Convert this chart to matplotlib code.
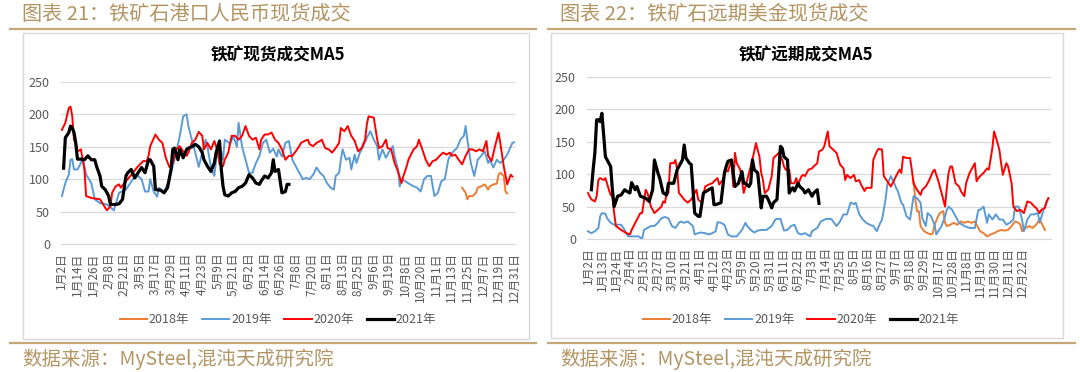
import matplotlib.pyplot as plt
from matplotlib.lines import Line2D
from matplotlib.patches import Rectangle

plt.rcParams['font.family'] = ['Noto Sans CJK SC', 'DejaVu Sans']

# x labels (trading-day axis, one label every few days)
left_ticks = ['1月2日', '1月14日', '1月26日', '2月8日', '2月21日', '3月5日', '3月17日', '3月29日',
              '4月11日', '4月23日', '5月9日', '5月21日', '6月2日', '6月14日', '6月26日', '7月8日',
              '7月20日', '8月1日', '8月13日', '8月25日', '9月6日', '9月19日', '10月8日', '10月20日',
              '11月1日', '11月13日', '11月25日', '12月7日', '12月19日', '12月31日']
right_ticks = ['1月2日', '1月13日', '1月24日', '2月4日', '2月15日', '2月27日', '3月10日', '3月21日',
               '4月1日', '4月12日', '4月23日', '5月9日', '5月20日', '5月31日', '6月11日', '6月22日',
               '7月3日', '7月14日', '7月25日', '8月5日', '8月16日', '8月27日', '9月7日', '9月18日',
               '9月29日', '10月17日', '10月28日', '11月8日', '11月19日', '11月30日', '12月11日', '12月22日']

years = ['2018年', '2019年', '2020年', '2021年']
colors = ['#ED7D31', '#5B9BD5', '#FF0000', '#000000']
widths = [1.4, 1.4, 1.4, 2.3]

# left chart: (day index, value)
L18 = [(231, 87), (233, 79), (234, 69), (235, 74), (237, 74), (239, 79), (240, 87), (242, 89),
       (244, 92), (246, 84), (247, 89), (249, 92), (251, 93), (252, 107), (253, 110), (255, 105),
       (256, 81), (257, 78)]
L19 = [(0, 74), (2, 94), (4, 107), (5, 130), (6, 131), (7, 115), (9, 115), (11, 125), (12, 133),
       (14, 107), (17, 94), (19, 69), (22, 63), (26, 61), (30, 52), (33, 79), (37, 84), (41, 100),
       (44, 105), (46, 100), (48, 81), (50, 81), (51, 100), (53, 81), (55, 73), (56, 87), (59, 80),
       (62, 100), (65, 130), (68, 166), (70, 197), (72, 200), (73, 182), (75, 161), (77, 141),
       (79, 119), (81, 141), (83, 161), (84, 150), (86, 119), (88, 105), (89, 130), (91, 154),
       (93, 130), (94, 161), (97, 155), (99, 166), (101, 150), (102, 187), (104, 150), (106, 130),
       (108, 110), (110, 110), (112, 125), (114, 136), (116, 156), (118, 161), (120, 141),
       (122, 147), (124, 135), (125, 146), (127, 135), (129, 156), (131, 159), (133, 130),
       (135, 120), (137, 110), (139, 100), (141, 102), (143, 100), (145, 107), (147, 118),
       (149, 110), (151, 105), (153, 94), (155, 87), (157, 84), (158, 105), (160, 110), (161, 130),
       (162, 146), (164, 130), (166, 133), (167, 115), (169, 138), (170, 125), (172, 141),
       (174, 151), (176, 164), (178, 174), (180, 161), (182, 151), (183, 130), (185, 146),
       (187, 133), (189, 143), (191, 151), (192, 136), (194, 115), (195, 89), (196, 100), (198, 97),
       (201, 92), (203, 89), (205, 87), (207, 81), (209, 100), (211, 105), (213, 105), (215, 74),
       (217, 79), (219, 97), (221, 100), (223, 130), (224, 136), (226, 143), (228, 148), (230, 161),
       (232, 167), (233, 182), (234, 161), (236, 125), (238, 105), (240, 130), (242, 136),
       (244, 143), (246, 125), (247, 130), (249, 118), (251, 130), (253, 125), (255, 130),
       (257, 138), (260, 156), (261, 157)]
L20 = [(0, 176), (2, 187), (4, 210), (5, 212), (6, 197), (7, 161), (8, 156), (9, 143), (11, 146),
       (12, 130), (13, 115), (14, 74), (17, 71), (22, 69), (25, 56), (26, 52), (28, 58), (29, 79),
       (31, 89), (33, 92), (34, 87), (36, 94), (38, 100), (41, 110), (44, 120), (47, 128), (49, 128),
       (50, 136), (51, 151), (54, 169), (56, 161), (58, 156), (60, 133), (62, 119), (64, 125),
       (66, 146), (68, 151), (70, 143), (72, 136), (73, 141), (75, 156), (77, 161), (79, 173),
       (81, 167), (82, 146), (84, 156), (86, 146), (88, 159), (90, 143), (91, 123), (93, 120),
       (94, 130), (96, 141), (98, 167), (100, 167), (102, 161), (104, 167), (106, 182), (108, 167),
       (110, 161), (112, 164), (114, 146), (115, 161), (117, 169), (119, 169), (121, 172),
       (123, 161), (125, 156), (127, 146), (129, 130), (131, 136), (133, 136), (135, 143),
       (137, 151), (138, 156), (140, 159), (142, 161), (143, 154), (145, 151), (147, 156),
       (149, 159), (150, 161), (152, 148), (154, 146), (156, 141), (158, 148), (160, 156),
       (161, 179), (163, 174), (165, 182), (167, 167), (169, 159), (171, 143), (173, 148),
       (175, 161), (176, 185), (177, 197), (180, 195), (182, 161), (183, 148), (185, 151),
       (187, 161), (188, 148), (190, 146), (192, 125), (194, 112), (196, 94), (197, 104), (199, 120),
       (200, 130), (202, 141), (203, 146), (205, 151), (206, 161), (208, 146), (210, 130),
       (212, 120), (214, 128), (216, 130), (218, 136), (220, 141), (222, 138), (224, 141),
       (225, 136), (227, 138), (229, 130), (231, 123), (233, 136), (235, 146), (237, 146),
       (239, 143), (241, 146), (243, 143), (245, 159), (246, 136), (248, 128), (250, 151),
       (252, 172), (253, 156), (255, 120), (257, 92), (259, 107), (260, 104)]
L21 = [(1, 117), (2, 164), (4, 172), (5, 182), (6, 179), (7, 172), (8, 156), (9, 131), (11, 131),
       (13, 130), (15, 136), (17, 130), (19, 130), (20, 120), (22, 105), (23, 89), (25, 84), (27, 74),
       (28, 61), (31, 61), (33, 62), (35, 69), (37, 105), (38, 110), (40, 115), (42, 102), (44, 110),
       (46, 118), (48, 110), (50, 130), (51, 130), (53, 120), (54, 84), (57, 83), (59, 79), (61, 87),
       (63, 115), (64, 146), (65, 148), (67, 130), (68, 146), (70, 133), (72, 146), (73, 148),
       (75, 150), (77, 154), (79, 150), (81, 141), (82, 130), (84, 120), (86, 112), (88, 125),
       (89, 141), (91, 159), (92, 115), (93, 89), (94, 76), (96, 74), (98, 79), (100, 81), (102, 87),
       (104, 89), (106, 94), (108, 107), (110, 102), (112, 94), (114, 92), (115, 97), (117, 105),
       (119, 102), (121, 110), (122, 130), (123, 112), (125, 115), (126, 97), (127, 79), (129, 81),
       (130, 92), (131, 92)]

# right chart: (day index, value)
R18 = [(186, 89), (187, 61), (188, 43), (189, 43), (190, 20), (192, 12), (194, 9), (196, 7), (197, 9),
       (198, 22), (200, 35), (201, 40), (203, 43), (204, 25), (205, 20), (207, 22), (209, 25),
       (211, 22), (213, 27), (215, 25), (217, 27), (219, 25), (221, 27), (223, 17), (224, 12),
       (226, 9), (228, 4), (230, 7), (232, 9), (234, 12), (236, 14), (238, 13), (240, 14), (242, 20),
       (244, 27), (246, 25), (247, 22), (248, 12), (250, 17), (252, 20), (254, 17), (256, 22),
       (258, 30), (259, 25), (261, 14)]
R19 = [(0, 12), (2, 9), (4, 12), (6, 17), (7, 35), (8, 40), (10, 39), (11, 32), (13, 25), (15, 22),
       (19, 22), (21, 14), (23, 4), (29, 4), (31, 0), (32, 14), (34, 17), (36, 20), (38, 20), (40, 25),
       (42, 32), (44, 34), (46, 32), (48, 20), (50, 17), (52, 25), (53, 27), (55, 25), (57, 27),
       (60, 20), (61, 7), (64, 10), (67, 9), (69, 7), (71, 9), (73, 12), (74, 26), (76, 25), (78, 22),
       (80, 7), (82, 4), (85, 4), (88, 14), (90, 25), (91, 20), (93, 14), (95, 10), (97, 13), (99, 14),
       (102, 14), (105, 20), (107, 30), (108, 31), (110, 31), (112, 13), (114, 14), (116, 20),
       (118, 22), (120, 9), (122, 7), (124, 9), (127, 4), (128, 12), (131, 17), (133, 27), (136, 31),
       (139, 31), (142, 20), (144, 27), (146, 38), (148, 38), (150, 56), (152, 54), (153, 56),
       (155, 38), (157, 30), (159, 25), (161, 22), (163, 20), (165, 12), (167, 25), (168, 30),
       (170, 61), (171, 84), (173, 97), (175, 86), (176, 79), (177, 74), (179, 56), (180, 53),
       (182, 35), (184, 30), (185, 48), (186, 66), (188, 63), (190, 56), (191, 32), (193, 20),
       (194, 40), (196, 35), (198, 22), (199, 7), (202, 20), (204, 35), (205, 45), (206, 50),
       (208, 45), (210, 35), (212, 25), (215, 20), (218, 17), (221, 17), (223, 45), (224, 45),
       (226, 50), (228, 25), (229, 38), (231, 30), (233, 38), (235, 30), (237, 30), (239, 22),
       (241, 25), (243, 30), (244, 50), (246, 50), (248, 30), (249, 12), (251, 30), (253, 38),
       (255, 38), (257, 40), (258, 25), (260, 43), (262, 56), (263, 63)]
R20 = [(0, 71), (2, 61), (4, 58), (5, 66), (6, 91), (7, 94), (9, 91), (10, 94), (12, 76), (13, 68),
       (14, 66), (15, 40), (16, 20), (19, 14), (22, 9), (24, 7), (25, 14), (28, 30), (30, 40), (31, 40),
       (33, 76), (34, 71), (35, 61), (36, 50), (38, 40), (40, 45), (42, 50), (43, 58), (44, 56),
       (45, 71), (46, 71), (47, 117), (49, 117), (50, 122), (51, 107), (52, 71), (53, 68), (55, 61),
       (57, 56), (59, 61), (61, 71), (62, 76), (63, 61), (65, 56), (67, 81), (69, 84), (71, 86),
       (72, 89), (74, 94), (75, 84), (77, 91), (79, 107), (80, 104), (82, 122), (83, 81), (84, 133),
       (85, 117), (87, 107), (88, 91), (89, 71), (90, 81), (92, 102), (93, 112), (95, 135), (96, 148),
       (98, 127), (99, 102), (100, 91), (101, 71), (103, 76), (105, 97), (106, 125), (108, 130),
       (109, 133), (111, 122), (112, 112), (113, 107), (115, 107), (116, 86), (118, 86), (119, 94),
       (120, 84), (122, 97), (123, 99), (124, 97), (126, 107), (128, 109), (129, 112), (131, 117),
       (132, 135), (134, 138), (135, 143), (137, 166), (138, 143), (140, 138), (142, 133), (144, 115),
       (146, 109), (147, 91), (148, 99), (150, 94), (152, 99), (153, 89), (155, 91), (156, 84),
       (158, 74), (159, 79), (160, 79), (162, 79), (163, 122), (165, 135), (166, 139), (168, 138),
       (169, 97), (171, 89), (173, 81), (174, 86), (176, 97), (178, 107), (179, 102), (180, 127),
       (182, 125), (184, 125), (185, 107), (186, 86), (188, 76), (190, 68), (191, 76), (193, 81),
       (195, 91), (197, 104), (198, 107), (200, 91), (202, 71), (204, 50), (205, 79), (206, 102),
       (207, 112), (208, 112), (210, 86), (212, 81), (213, 74), (215, 66), (216, 86), (218, 102),
       (219, 107), (221, 117), (222, 89), (223, 94), (224, 97), (226, 102), (228, 109), (229, 107),
       (231, 140), (232, 166), (234, 148), (235, 138), (236, 117), (237, 99), (239, 117), (240, 112),
       (242, 86), (243, 50), (245, 43), (247, 45), (249, 40), (251, 58), (253, 56), (255, 50),
       (256, 48), (258, 40), (259, 45), (261, 48), (262, 58), (263, 63)]
R21 = [(2, 76), (3, 107), (4, 133), (5, 184), (6, 184), (7, 181), (8, 194), (9, 161), (10, 127),
       (12, 117), (13, 112), (14, 76), (15, 50), (17, 66), (19, 68), (21, 76), (22, 74), (24, 71),
       (25, 87), (27, 76), (28, 81), (30, 66), (33, 63), (35, 58), (37, 76), (38, 122), (40, 102),
       (41, 94), (43, 71), (45, 68), (46, 86), (49, 86), (51, 107), (52, 112), (54, 122), (55, 145),
       (56, 125), (58, 117), (59, 115), (61, 40), (63, 35), (64, 35), (66, 71), (69, 76), (71, 79),
       (72, 53), (73, 53), (76, 56), (78, 102), (79, 112), (80, 120), (82, 122), (83, 102), (84, 81),
       (86, 86), (88, 104), (89, 86), (90, 86), (92, 81), (93, 86), (94, 122), (95, 107), (97, 102),
       (99, 48), (100, 66), (102, 66), (103, 61), (105, 48), (106, 56), (108, 61), (110, 143),
       (111, 140), (112, 127), (114, 122), (115, 71), (116, 76), (117, 79), (118, 74), (120, 86),
       (121, 81), (123, 76), (124, 71), (126, 76), (128, 66), (129, 71), (131, 76), (132, 55)]


def draw(rect, title, tcx, ticks, step, n, series, leg_x):
    ax = fig.add_axes(rect)
    for s, c, w, lab in zip(series, colors, widths, years):
        x, y = zip(*s)
        ax.plot(x, y, color=c, lw=w, label=lab, solid_joinstyle='round')
    ax.set_xlim(-0.5, n - 0.5)
    ax.set_ylim(0, 250)
    ax.set_yticks(range(0, 251, 50))
    ax.set_xticks(range(0, step * len(ticks), step))
    ax.set_xticklabels(ticks, rotation=90, fontsize=8.5)
    ax.tick_params(axis='x', length=0, pad=6, colors='#595959')
    ax.tick_params(axis='y', length=0, pad=8, colors='#595959', labelsize=9)
    ax.yaxis.grid(True, color='#d9d9d9', lw=0.9)
    ax.set_axisbelow(True)
    for sp in ['top', 'left', 'right']:
        ax.spines[sp].set_visible(False)
    ax.spines['bottom'].set_color('#d9d9d9')
    fig.text(tcx, 1 - 55 / 372, title, ha='center', va='center', fontsize=12, fontweight='bold')
    ax.legend(loc='center', bbox_to_anchor=(leg_x, 1 - 320 / 372), bbox_transform=fig.transFigure,
              ncol=4, frameon=False, fontsize=9, handlelength=2.2, columnspacing=1.0,
              handletextpad=0.15, labelcolor='#595959')
    return ax


fig = plt.figure(figsize=(10.8, 3.72), dpi=100)
W, H = 1080, 372
tan = '#b39563'

for x0, x1, head in [(10, 536, '图表 21：铁矿石港口人民币现货成交'), (548, 1075, '图表 22：铁矿石远期美金现货成交')]:
    fig.text((x0 + 12) / W, 1 - 14 / H, head, fontsize=14.5, color=tan, va='center')
    fig.add_artist(Line2D([x0 / W, x1 / W], [1 - 29 / H] * 2, color='#c4a878', lw=1.6))
    fig.add_artist(Line2D([x0 / W, x1 / W], [1 - 343 / H] * 2, color='#c4a878', lw=1.6))
    fig.text((x0 + 12) / W, 1 - 359 / H, '数据来源：MySteel,混沌天成研究院', fontsize=14, color=tan, va='center')

fig.add_artist(Rectangle((23 / W, 1 - 339 / H), 506 / W, 306 / H, fill=False, ec='#d9d9d9', lw=1))
fig.add_artist(Rectangle((551 / W, 1 - 338 / H), 512 / W, 305 / H, fill=False, ec='#d9d9d9', lw=1))

draw([61 / W, 1 - 244 / H, 454 / W, 162 / H], '铁矿现货成交MA5', 278 / W,
     left_ticks, 9, 262, [L18, L19, L20, L21], 278 / W)
draw([587 / W, 1 - 239 / H, 464 / W, 162 / H], '铁矿远期成交MA5', 806 / W,
     right_ticks, 8, 265, [R18, R19, R20, R21], 801 / W)

plt.savefig('out.png', dpi=100)
